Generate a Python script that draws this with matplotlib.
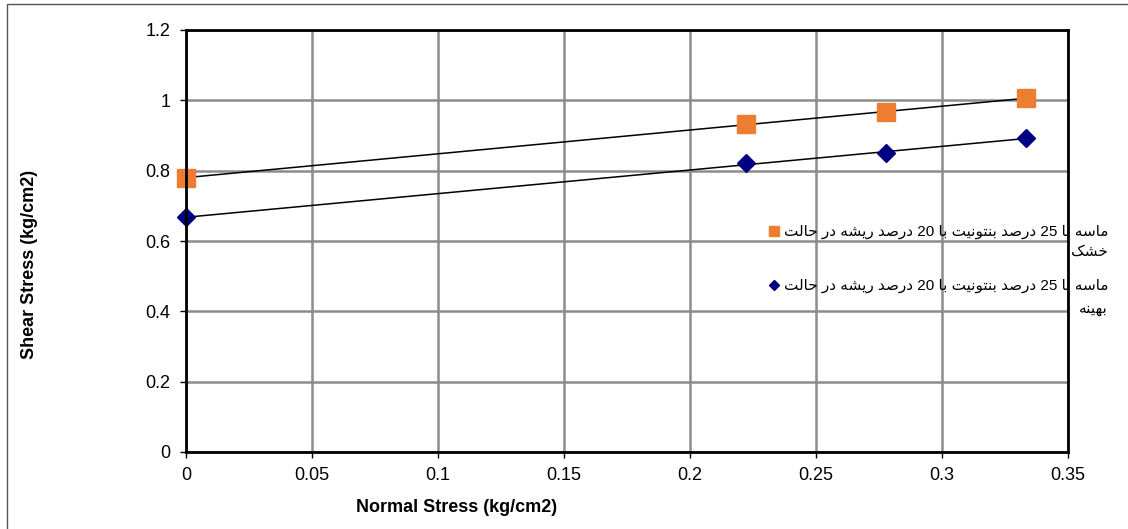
import numpy as np
import matplotlib
matplotlib.use("Agg")
import matplotlib.pyplot as plt
from matplotlib.ticker import FuncFormatter, MultipleLocator
from matplotlib.patches import Rectangle

plt.rcParams["font.family"] = ["Liberation Sans", "DejaVu Sans"]

# data
normal_stress = [0.0, 0.2222, 0.2778, 0.3333]
shear_dry = [0.78, 0.932, 0.967, 1.006]
shear_opt = [0.667, 0.821, 0.849, 0.893]
label_dry = ["ماسه با 25 درصد بنتونیت با 20 درصد ریشه در حالت", "خشک"]
label_opt = ["ماسه با 25 درصد بنتونیت با 20 درصد ریشه در حالت", "بهینه"]
x_title = "Normal Stress (kg/cm2)"
y_title = "Shear Stress (kg/cm2)"

# contextual forms: (isolated, final, initial, medial)
FORMS = {
    "ا": ("\uFE8D", "\uFE8E"),
    "د": ("\uFEA9", "\uFEAA"),
    "ر": ("\uFEAD", "\uFEAE"),
    "و": ("\uFEED", "\uFEEE"),
    "م": ("\uFEE1", "\uFEE2", "\uFEE3", "\uFEE4"),
    "س": ("\uFEB1", "\uFEB2", "\uFEB3", "\uFEB4"),
    "ه": ("\uFEE9", "\uFEEA", "\uFEEB", "\uFEEC"),
    "ب": ("\uFE8F", "\uFE90", "\uFE91", "\uFE92"),
    "ص": ("\uFEB9", "\uFEBA", "\uFEBB", "\uFEBC"),
    "ن": ("\uFEE5", "\uFEE6", "\uFEE7", "\uFEE8"),
    "ت": ("\uFE95", "\uFE96", "\uFE97", "\uFE98"),
    "ی": ("\uFBFC", "\uFBFD", "\uFBFE", "\uFBFF"),
    "ش": ("\uFEB5", "\uFEB6", "\uFEB7", "\uFEB8"),
    "ح": ("\uFEA1", "\uFEA2", "\uFEA3", "\uFEA4"),
    "ل": ("\uFEDD", "\uFEDE", "\uFEDF", "\uFEE0"),
    "خ": ("\uFEA5", "\uFEA6", "\uFEA7", "\uFEA8"),
    "ک": ("\uFB8E", "\uFB8F", "\uFB90", "\uFB91"),
}


def shape_word(word):
    if word.isdigit():
        return word
    out = []
    for i, c in enumerate(word):
        f = FORMS.get(c)
        if f is None:
            out.append(c)
            continue
        prev = word[i - 1] if i > 0 else None
        nxt = word[i + 1] if i + 1 < len(word) else None
        join_prev = prev in FORMS and len(FORMS[prev]) == 4
        join_next = len(f) == 4 and nxt in FORMS
        if join_prev and join_next:
            out.append(f[3])
        elif join_prev:
            out.append(f[1])
        elif join_next:
            out.append(f[2])
        else:
            out.append(f[0])
    return "".join(reversed(out))


def rtl(text):
    return " ".join(shape_word(w) for w in reversed(text.split(" ")))


fig = plt.figure(figsize=(11.28, 5.29), dpi=100)
ax = fig.add_axes([186 / 1128, 1 - 452 / 529, (1068 - 186) / 1128, (452 - 30) / 529])

x = np.array(normal_stress)
for ys, color, marker, ms, lab in [
    (shear_dry, "#ED7D31", "s", 13.5, label_dry),
    (shear_opt, "#000080", "D", 9, label_opt),
]:
    k, b = np.polyfit(x, ys, 1)
    xx = np.array([x.min(), x.max()])
    ax.plot(xx, k * xx + b, color="black", lw=1.1, zorder=3)
    ax.plot(x, ys, ls="none", marker=marker, ms=ms, color=color,
            mec=color, zorder=4, clip_on=False, label=rtl(lab[0]))

ax.set_xlim(0, 0.35)
ax.set_ylim(0, 1.2)
ax.xaxis.set_major_locator(MultipleLocator(0.05))
ax.yaxis.set_major_locator(MultipleLocator(0.2))
fmt = FuncFormatter(lambda v, p: "%g" % round(v, 4))
ax.xaxis.set_major_formatter(fmt)
ax.yaxis.set_major_formatter(fmt)
ax.grid(True, color="#8c8c8c", lw=1.8)
ax.set_axisbelow(True)
ax.tick_params(direction="out", length=4, width=1, labelsize=13, pad=7)
for s in ax.spines.values():
    s.set_linewidth(2)
    s.set_zorder(5)

leg = ax.legend(loc="upper right", bbox_to_anchor=(1108 / 1128, 1 - 225 / 529),
                bbox_transform=fig.transFigure, frameon=False, fontsize=11,
                markerscale=0.55, handlelength=0.6, handletextpad=0.3,
                borderpad=0, borderaxespad=0, labelspacing=2.6)
leg.set_zorder(1)
fig.text(1108 / 1128, 1 - 252 / 529, rtl(label_dry[1]), ha="right", va="center", fontsize=11)
fig.text(1108 / 1128, 1 - 309 / 529, rtl(label_opt[1]), ha="right", va="center", fontsize=11)

fig.text(457 / 1128, 1 - 508 / 529, x_title, ha="center", va="center",
         fontsize=13, fontweight="bold")
fig.text(30 / 1128, 1 - 264 / 529, y_title, ha="center", va="center",
         rotation=90, fontsize=13, fontweight="bold")

fig.patches.append(Rectangle((7 / 1128, -0.1), 1.2, 1 - 4 / 529 + 0.1,
                             transform=fig.transFigure, fill=False,
                             ec="#555555", lw=1))

fig.savefig("out.png", dpi=100)
